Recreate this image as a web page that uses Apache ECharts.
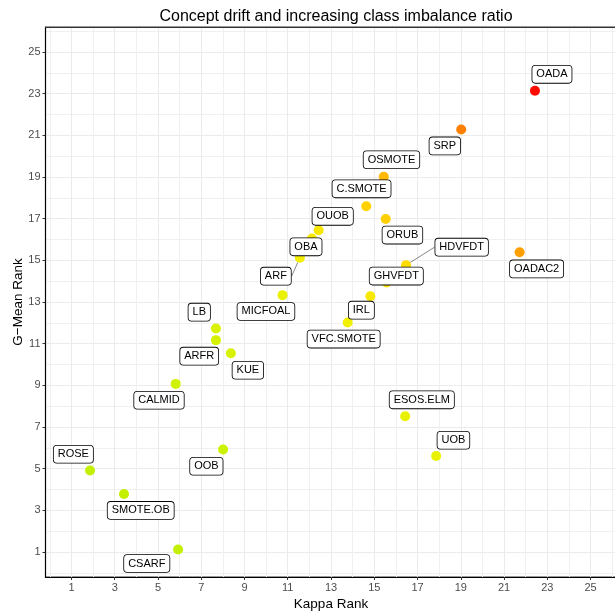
<!DOCTYPE html>
<html><head><meta charset="utf-8">
<script src="https://cdn.jsdelivr.net/npm/echarts@6/dist/echarts.min.js"></script>
<style>html,body{margin:0;padding:0;background:#fff}#c{width:615px;height:611px}</style>
</head><body><div id="c"></div>
<script>
// ---- data ----
const methods = ['OADA','SRP','OSMOTE','C.SMOTE','ORUB','OUOB','OBA','ARF','MICFOAL','HDVFDT','GHVFDT','OADAC2','IRL','VFC.SMOTE','LB','ARFR','KUE','CALMID','ESOS.ELM','UOB','ROSE','OOB','SMOTE.OB','CSARF'];
const kappaRank = [22.43,19.02,15.44,14.63,15.53,12.43,12.12,11.56,10.76,16.47,15.57,21.72,14.82,13.77,7.68,7.68,8.37,5.82,16.43,17.86,1.86,8.01,3.43,5.93];
const gmeanRank = [23.14,21.28,19.01,17.60,16.98,16.44,16.05,15.12,13.33,14.77,13.94,15.39,13.28,12.02,11.73,11.17,10.54,9.07,7.52,5.61,4.91,5.92,3.78,1.12];
const tickValues = [1,3,5,7,9,11,13,15,17,19,21,23,25];
const minorValues = [0,2,4,6,8,10,12,14,16,18,20,22,24,26];

// ---- label placement (pixel offsets of label centre from point, like ggrepel) ----
const labelOffset = {
  'OADA':[17,-16.4],'SRP':[-16.4,16.4],'OSMOTE':[7.7,-17],'C.SMOTE':[-4.7,-17.3],'ORUB':[16.7,16],
  'OUOB':[14,-14],'OBA':[-6,8.4],'ARF':[-24,18.3],'MICFOAL':[-16.6,16.3],'HDVFDT':[55.6,-18],
  'GHVFDT':[9.7,-6.3],'OADAC2':[17,16.7],'IRL':[-9,14],'VFC.SMOTE':[-4,16.7],'LB':[-16.7,-16.3],
  'ARFR':[-16.7,16],'KUE':[17,17],'CALMID':[-16.7,16.3],'ESOS.ELM':[16.6,-16.3],'UOB':[17.3,-15.7],
  'ROSE':[-16.7,-16.3],'OOB':[-16.7,16.7],'SMOTE.OB':[16.7,16.3],'CSARF':[-31.3,14]
};
const withSegment = ['ARF','HDVFDT'];

const FONT = 'Liberation Sans, Arial, Helvetica, sans-serif';
const GRID_MAJOR = '#ebebeb';
const GRID_MINOR = '#f0f0f0';

const data = methods.map((m, i) => ({
  name: m,
  value: [kappaRank[i], gmeanRank[i], (kappaRank[i] + gmeanRank[i]) / 2],
  labelLine: { show: withSegment.indexOf(m) >= 0 }
}));

const axisCommon = { type: 'value', min: -0.2, max: 26.2 };
function gridAxis(position, values, color) {
  return Object.assign({}, axisCommon, {
    position: position, z: 1,
    axisLine: { show: false },
    axisTick: { show: false, customValues: values },
    axisLabel: { show: false, customValues: values },
    splitLine: { show: true, lineStyle: { color: color, width: 1 } }
  });
}

const chart = echarts.init(document.getElementById('c'), null, { renderer: 'canvas' });
chart.setOption({
  animation: false,
  backgroundColor: '#fff',
  textStyle: { fontFamily: FONT },
  title: {
    text: 'Concept drift and increasing class imbalance ratio',
    left: 331, top: 4, textAlign: 'center',
    textStyle: { fontSize: 16, fontWeight: 'normal', color: '#000', fontFamily: FONT }
  },
  grid: { left: 45.5, top: 27, width: 571, height: 550, show: true, borderColor: '#333', borderWidth: 1, backgroundColor: '#fff', containLabel: false, outerBoundsMode: 'none' },
  xAxis: [
    Object.assign({}, axisCommon, {
      position: 'bottom', z: 4,
      name: 'Kappa Rank', nameLocation: 'middle', nameGap: 20, nameMoveOverlap: false,
      nameTextStyle: { fontSize: 13.5, color: '#000', fontFamily: FONT },
      axisLine: { show: true, onZero: false, lineStyle: { color: '#000', width: 1.2 } },
      axisTick: { show: true, length: 3, customValues: tickValues, lineStyle: { color: '#333' } },
      axisLabel: { show: true, customValues: tickValues, margin: 5, fontSize: 11, color: '#4d4d4d', fontFamily: FONT },
      splitLine: { show: false }
    }),
    Object.assign({}, axisCommon, {
      position: 'top', z: 4,
      axisLine: { show: true, onZero: false, lineStyle: { color: '#333', width: 1 } },
      axisTick: { show: false }, axisLabel: { show: false },
      splitLine: { show: false }
    }),
    gridAxis('bottom', tickValues, GRID_MAJOR),
    gridAxis('top', minorValues, GRID_MINOR)
  ],
  yAxis: [
    Object.assign({}, axisCommon, {
      position: 'left', z: 4,
      name: 'G\u2212Mean Rank', nameLocation: 'middle', nameGap: 20, nameMoveOverlap: false,
      nameTextStyle: { fontSize: 13.5, color: '#000', fontFamily: FONT },
      axisLine: { show: true, onZero: false, lineStyle: { color: '#000', width: 1.2 } },
      axisTick: { show: true, length: 3, customValues: tickValues, lineStyle: { color: '#333' } },
      axisLabel: { show: true, customValues: tickValues, margin: 5, fontSize: 11, color: '#4d4d4d', fontFamily: FONT },
      splitLine: { show: false }
    }),
    gridAxis('right', tickValues, GRID_MAJOR),
    gridAxis('right', minorValues, GRID_MINOR)
  ],
  visualMap: {
    type: 'continuous', show: false, dimension: 2, seriesIndex: 0,
    min: 3, max: 23,
    inRange: { color: ['#c2f000', '#c8f200', '#d0f200', '#dcf200', '#f2f000', '#ffe000', '#ffa800', '#ff7a00', '#ff0000'] }
  },
  series: [{
    type: 'scatter',
    xAxisIndex: 0, yAxisIndex: 0,
    symbol: 'circle', symbolSize: 10,
    silent: true, z: 5,
    data: data,
    itemStyle: { opacity: 1 },
    label: {
      show: true, position: 'inside',
      formatter: p => p.name,
      fontSize: 11, color: '#000', fontFamily: FONT,
      backgroundColor: '#fff', borderColor: '#000', borderWidth: 0.8, borderRadius: 3,
      padding: [3, 4, 2, 4], lineHeight: 12
    },
    labelLine: { show: false, lineStyle: { color: '#666', width: 0.8 } },
    labelLayout: function (params) {
      const off = labelOffset[methods[params.dataIndex]] || [0, 0];
      return { dx: off[0], dy: off[1] };
    },
    emphasis: { disabled: true }
  }]
});
</script>
</body></html>
